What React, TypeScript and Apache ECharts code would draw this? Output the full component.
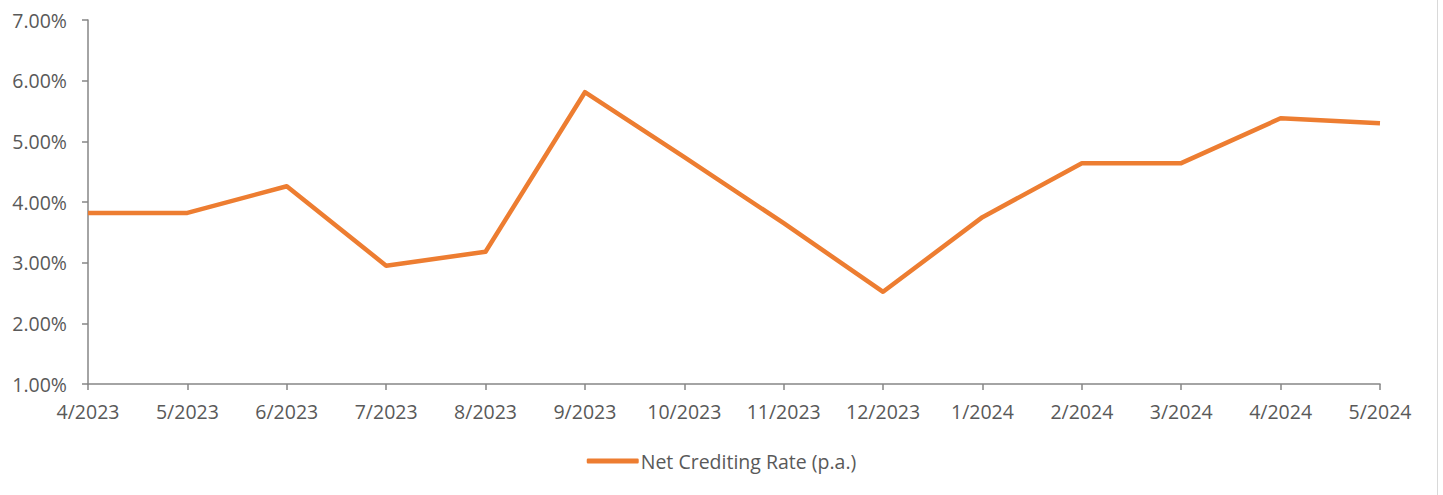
import React, { useEffect, useRef } from "react";
import * as echarts from "echarts";

const categories = ["4/2023", "5/2023", "6/2023", "7/2023", "8/2023", "9/2023", "10/2023", "11/2023", "12/2023", "1/2024", "2/2024", "3/2024", "4/2024", "5/2024"];
const netCreditingRate = [3.82, 3.82, 4.26, 2.95, 3.18, 5.81, 4.74, 3.65, 2.52, 3.75, 4.64, 4.64, 5.38, 5.3];
const seriesName = "Net Crediting Rate (p.a.)";
const yMin = 1;
const yMax = 7;
const yInterval = 1;

const textColor = "#595959";
const axisColor = "#868686";
const lineColor = "#ED7D31";
const font = "'Open Sans', 'Liberation Sans', sans-serif";
const fs = 19.5;

export default function App() {
  const ref = useRef<HTMLDivElement>(null);
  useEffect(() => {
    document.body.style.margin = "0";
    const chart = echarts.init(ref.current!, undefined, { renderer: "svg" });
    chart.setOption({
      animation: false,
      backgroundColor: "#ffffff",
      grid: { left: 88, right: 63, top: 20, bottom: 111, containLabel: false },
      xAxis: {
        type: "category",
        data: categories,
        boundaryGap: false,
        axisLine: { lineStyle: { color: axisColor, width: 1.5 } },
        axisTick: { show: true, length: 6, lineStyle: { color: axisColor, width: 1.5 } },
        axisLabel: { color: textColor, fontSize: fs, fontFamily: font, margin: 17, interval: 0 },
        splitLine: { show: false },
      },
      yAxis: {
        type: "value",
        min: yMin,
        max: yMax,
        interval: yInterval,
        axisLine: { show: true, lineStyle: { color: axisColor, width: 1.5 } },
        axisTick: { show: true, length: 6, lineStyle: { color: axisColor, width: 1.5 } },
        axisLabel: {
          color: textColor,
          fontSize: fs,
          fontFamily: font,
          margin: 21,
          formatter: (v: number) => v.toFixed(2) + "%",
        },
        splitLine: { show: false },
      },
      legend: {
        show: true,
        bottom: 19,
        left: "center",
        icon: "roundRect",
        itemWidth: 52,
        itemHeight: 5,
        itemGap: 10,
        textStyle: { color: textColor, fontSize: fs, fontFamily: font, padding: [0, 0, 0, -3] },
        data: [seriesName],
      },
      series: [
        {
          name: seriesName,
          type: "line",
          data: netCreditingRate,
          showSymbol: false,
          symbol: "none",
          lineStyle: { color: lineColor, width: 4.5, join: "round" },
          itemStyle: { color: lineColor },
        },
      ],
      graphic: [
        {
          type: "line",
          shape: { x1: 1437.5, y1: 0, x2: 1437.5, y2: 495 },
          style: { stroke: "#d9d9d9", lineWidth: 1 },
        },
      ],
    });
    return () => chart.dispose();
  }, []);
  return <div ref={ref} style={{ width: 1443, height: 495 }} />;
}
